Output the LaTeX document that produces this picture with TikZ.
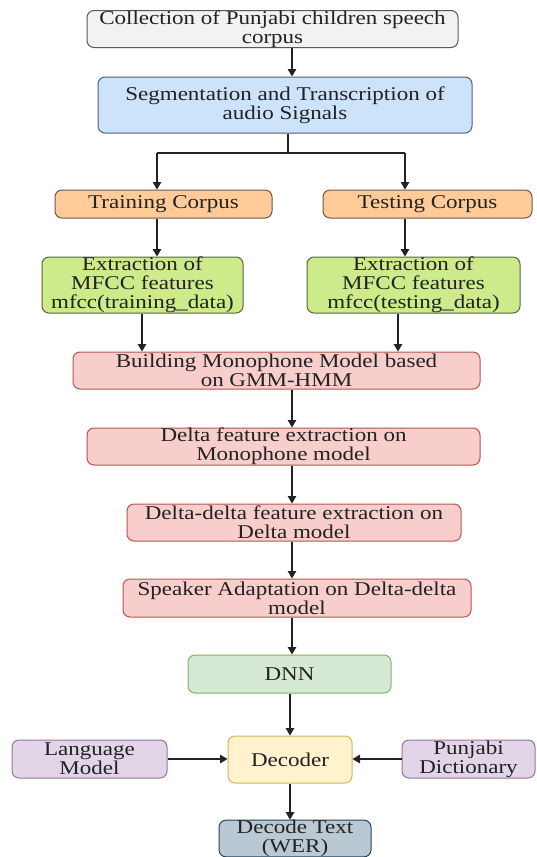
\documentclass[tikz,border=0pt]{standalone}
\usepackage{fontspec}
\setmainfont{Liberation Serif}[FakeStretch=1.18]
\usetikzlibrary{arrows.meta,calc}

\definecolor{greyF}{HTML}{F2F2F2}\definecolor{greyD}{HTML}{5A5A5A}
\definecolor{blueF}{HTML}{CDE3FA}\definecolor{blueD}{HTML}{4F5F78}
\definecolor{orangeF}{HTML}{FFCC99}\definecolor{orangeD}{HTML}{6E5646}
\definecolor{limeF}{HTML}{CDEB8B}\definecolor{limeD}{HTML}{55683A}
\definecolor{pinkF}{HTML}{F8CECC}\definecolor{pinkD}{HTML}{B85450}
\definecolor{mintF}{HTML}{D5E8D4}\definecolor{mintD}{HTML}{82B366}
\definecolor{sandF}{HTML}{FFF2CC}\definecolor{sandD}{HTML}{D6B656}
\definecolor{lilacF}{HTML}{E1D5E7}\definecolor{lilacD}{HTML}{9673A6}
\definecolor{slateF}{HTML}{BAC8D3}\definecolor{slateD}{HTML}{23445D}
\definecolor{ink}{HTML}{222222}

\tikzset{
  box/.style={draw, rounded corners=7pt, align=center, inner sep=0pt,
    line width=1pt, text=ink, font=\fontsize{19.5}{19}\selectfont},
  arr/.style={-{Triangle[length=7.5pt,width=8.5pt]}, line width=1.3pt, draw=ink},
  ln/.style={line width=1.3pt, draw=ink}
}

\begin{document}
\begin{tikzpicture}[x=1pt,y=-1pt]
\useasboundingbox (0,0) rectangle (536,857);

% corpus preparation
\node[box, fill=greyF, draw=greyD, minimum width=371, minimum height=37] (coll) at (272.5,29)
  {Collection of Punjabi children speech\\corpus};
\node[box, fill=blueF, draw=blueD, minimum width=374, minimum height=56] (seg) at (285,105)
  {Segmentation and Transcription of\\audio Signals};

% training / testing branches
\node[box, fill=orangeF, draw=orangeD, minimum width=217, minimum height=28] (train) at (163.5,204) {Training Corpus};
\node[box, fill=orangeF, draw=orangeD, minimum width=209, minimum height=28] (test) at (427.5,204) {Testing Corpus};
\node[box, fill=limeF, draw=limeD, minimum width=201, minimum height=56] (mfccA) at (142.5,285)
  {Extraction of\\MFCC features\\mfcc(training\_data)};
\node[box, fill=limeF, draw=limeD, minimum width=213, minimum height=56] (mfccB) at (413.5,285)
  {Extraction of\\MFCC features\\mfcc(testing\_data)};

% acoustic model stages
\node[box, fill=pinkF, draw=pinkD, minimum width=407, minimum height=37] (build) at (276.5,370.5)
  {Building Monophone Model based\\on GMM-HMM};
\node[box, fill=pinkF, draw=pinkD, minimum width=393, minimum height=37] (delta) at (283.5,446.5)
  {Delta feature extraction on\\Monophone model};
\node[box, fill=pinkF, draw=pinkD, minimum width=334, minimum height=37] (ddelta) at (294,522.5)
  {Delta-delta feature extraction on\\Delta model};
\node[box, fill=pinkF, draw=pinkD, minimum width=348, minimum height=38] (spk) at (297,598)
  {Speaker Adaptation on Delta-delta\\model};
\node[box, fill=mintF, draw=mintD, minimum width=203, minimum height=38] (dnn) at (289.5,674) {DNN};

% decoding
\node[box, fill=sandF, draw=sandD, minimum width=124, minimum height=47] (dec) at (290,759.5) {Decoder};
\node[box, fill=lilacF, draw=lilacD, minimum width=155, minimum height=38] (lm) at (89.5,759) {Language\\Model};
\node[box, fill=lilacF, draw=lilacD, minimum width=133, minimum height=38] (dict) at (468.5,759) {Punjabi\\Dictionary};
\node[box, fill=slateF, draw=slateD, minimum width=152, minimum height=36] (out) at (295,838.5) {Decode Text\\(WER)};

% connector columns
\coordinate (spine) at (292,0);
\coordinate (split) at (288,153);
\coordinate (colL) at (157,153);
\coordinate (colR) at (405,153);
\coordinate (colL2) at (142,0);
\coordinate (colR2) at (398,0);

\draw[arr] (coll.south -| spine) -- (seg.north -| spine);
\draw[ln] (seg.south -| split) -- (split);
\draw[ln] (colL) -- (colR);
\draw[arr] (colL) -- (train.north -| colL);
\draw[arr] (colR) -- (test.north -| colR);
\draw[arr] (train.south -| colL) -- (mfccA.north -| colL);
\draw[arr] (test.south -| colR) -- (mfccB.north -| colR);
\draw[arr] (mfccA.south -| colL2) -- (build.north -| colL2);
\draw[arr] (mfccB.south -| colR2) -- (build.north -| colR2);
\draw[arr] (build.south -| spine) -- (delta.north -| spine);
\draw[arr] (delta.south -| spine) -- (ddelta.north -| spine);
\draw[arr] (ddelta.south -| spine) -- (spk.north -| spine);
\draw[arr] (spk.south -| spine) -- (dnn.north -| spine);
\draw[arr] (dnn.south -| dec.north) -- (dec.north);
\draw[arr] (lm.east) -- (lm.east -| dec.west);
\draw[arr] (dict.west) -- (dict.west -| dec.east);
\draw[arr] (dec.south) -- (out.north -| dec.south);
\end{tikzpicture}
\end{document}
